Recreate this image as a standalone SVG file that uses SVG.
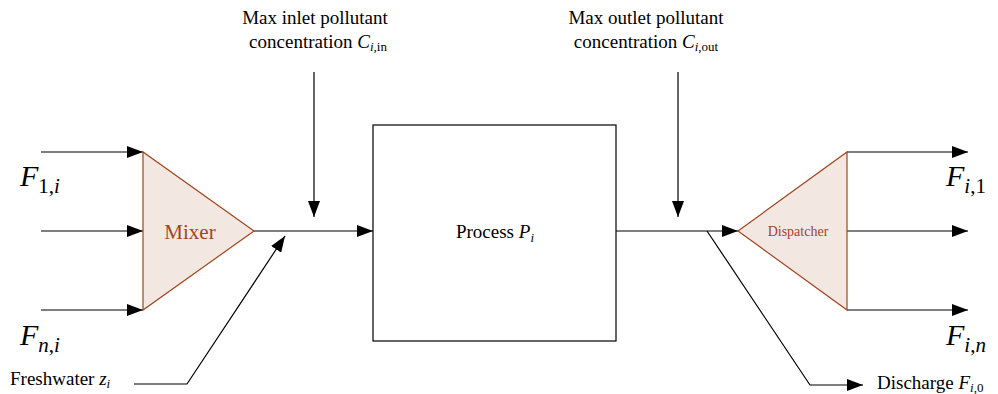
<svg xmlns="http://www.w3.org/2000/svg" width="998" height="394" viewBox="0 0 998 394" font-family="Liberation Serif, Times New Roman, DejaVu Serif, serif">
<style>
.t{fill:#000}
.big{font-size:30px}
.lab{font-size:19px}
.ln{stroke:#000;stroke-width:1.2;fill:none}
.tri{fill:#f3e7e2;stroke:#a0461e;stroke-width:1.2}
.tri-t{fill:#a0461e}
</style>
<defs>
<marker id="ah" markerWidth="16" markerHeight="12" refX="16" refY="6" orient="auto" markerUnits="userSpaceOnUse">
<path d="M0,0 L16,6 L0,12 Z" fill="#000"/>
</marker>
</defs>
<rect width="998" height="394" fill="#fff"/>
<g id="connectors">
<line class="ln" x1="41" y1="152" x2="143" y2="152" marker-end="url(#ah)"/>
<line class="ln" x1="41" y1="231" x2="143" y2="231" marker-end="url(#ah)"/>
<line class="ln" x1="41" y1="310" x2="143" y2="310" marker-end="url(#ah)"/>
<line class="ln" x1="254" y1="231" x2="373" y2="231" marker-end="url(#ah)"/>
<line class="ln" x1="314" y1="72" x2="314" y2="217" marker-end="url(#ah)"/>
<polyline class="ln" points="134,384 187,384 285,236" marker-end="url(#ah)"/>
<line class="ln" x1="616" y1="231" x2="738" y2="231" marker-end="url(#ah)"/>
<line class="ln" x1="678" y1="72" x2="678" y2="217" marker-end="url(#ah)"/>
<polyline class="ln" points="707,231 810,385 863,385" marker-end="url(#ah)"/>
<line class="ln" x1="847" y1="152" x2="968" y2="152" marker-end="url(#ah)"/>
<line class="ln" x1="847" y1="231" x2="968" y2="231" marker-end="url(#ah)"/>
<line class="ln" x1="847" y1="310" x2="968" y2="310" marker-end="url(#ah)"/>
</g>
<g id="mixer">
<polygon class="tri" points="143,152 143,310 254,231"/>
<text class="tri-t" x="190" y="239" font-size="21" text-anchor="middle">Mixer</text>
</g>
<g id="process">
<rect x="373" y="125" width="243" height="216" fill="#fff" stroke="#000" stroke-width="1.2"/>
<text class="t lab" x="495" y="238" text-anchor="middle">Process <tspan font-style="italic">P</tspan><tspan font-style="italic" font-size="13" dy="4">i</tspan></text>
</g>
<g id="dispatcher">
<polygon class="tri" points="738,231 847,152 847,310"/>
<text class="tri-t" x="798" y="236" font-size="14" text-anchor="middle">Dispatcher</text>
</g>
<g id="labels">
<text class="t big" x="20" y="186"><tspan font-style="italic">F</tspan><tspan font-size="21" dy="7">1,<tspan font-style="italic">i</tspan></tspan></text>
<text class="t big" x="20" y="345"><tspan font-style="italic">F</tspan><tspan font-size="21" dy="7"><tspan font-style="italic">n</tspan>,<tspan font-style="italic">i</tspan></tspan></text>
<text class="t big" x="946" y="186"><tspan font-style="italic">F</tspan><tspan font-size="21" dy="7"><tspan font-style="italic">i</tspan>,1</tspan></text>
<text class="t big" x="946" y="345"><tspan font-style="italic">F</tspan><tspan font-size="21" dy="7"><tspan font-style="italic">i</tspan>,<tspan font-style="italic">n</tspan></tspan></text>
<text class="t lab" x="10" y="385">Freshwater <tspan font-style="italic">z</tspan><tspan font-style="italic" font-size="13" dy="3">i</tspan></text>
<text class="t lab" x="877" y="389">Discharge <tspan font-style="italic">F</tspan><tspan font-size="13" dy="3"><tspan font-style="italic">i</tspan>,0</tspan></text>
<text class="t lab" x="315" y="24" text-anchor="middle">Max inlet pollutant</text>
<text class="t lab" x="318" y="48" text-anchor="middle">concentration <tspan font-style="italic">C</tspan><tspan font-size="13" dy="3"><tspan font-style="italic">i</tspan>,in</tspan></text>
<text class="t lab" x="646" y="24" text-anchor="middle">Max outlet pollutant</text>
<text class="t lab" x="646" y="48" text-anchor="middle">concentration <tspan font-style="italic">C</tspan><tspan font-size="13" dy="3"><tspan font-style="italic">i</tspan>,out</tspan></text>
</g>
</svg>
